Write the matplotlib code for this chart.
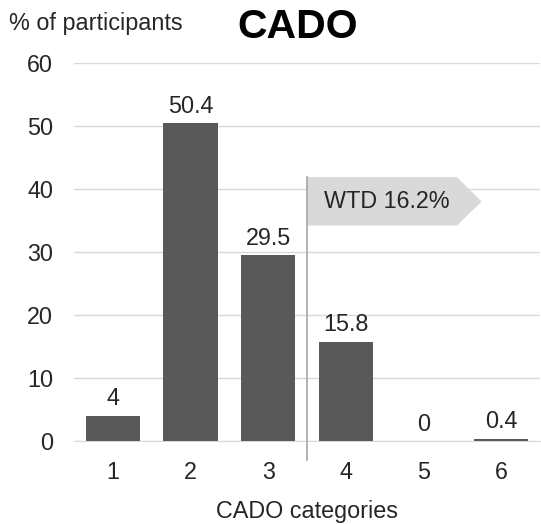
import matplotlib.pyplot as plt
from matplotlib.patches import Polygon

plt.rcParams['font.family'] = ['Liberation Sans', 'DejaVu Sans']

categorias = [1, 2, 3, 4, 5, 6]
percentuais = [4, 50.4, 29.5, 15.8, 0, 0.4]
rotulos = ['4', '50.4', '29.5', '15.8', '0', '0.4']
wtd = 16.2

fs = 16.8
fig = plt.figure(figsize=(5.41, 5.24), dpi=100)
ax = fig.add_axes([0.137, 0.158, 0.861, 0.722])

barras = ax.bar(categorias, percentuais, width=0.7, color='#595959', zorder=3)
for b, txt in zip(barras, rotulos):
    ax.annotate(txt, (b.get_x() + b.get_width() / 2, b.get_height()),
                xytext=(0, 4), textcoords='offset points',
                ha='center', va='bottom', fontsize=fs, color='#262626')

ax.set_xlim(0.5, 6.5)
ax.set_ylim(0, 60)
ax.set_yticks(range(0, 61, 10))
ax.set_xticks(categorias)
ax.grid(axis='y', color='#d9d9d9', linewidth=1, zorder=0)
for s in ['top', 'right', 'left']:
    ax.spines[s].set_visible(False)
ax.spines['bottom'].set_color('#d9d9d9')
ax.tick_params(length=0, labelsize=fs, labelcolor='#262626')
ax.tick_params(axis='x', pad=14)
ax.tick_params(axis='y', pad=15)

# seta do WTD
seta = Polygon([(3.5, 41.9), (5.43, 41.9), (5.75, 38.0), (5.43, 34.2), (3.5, 34.2)],
               closed=True, facecolor='#d9d9d9', edgecolor='none', zorder=4)
ax.add_patch(seta)
ax.plot([3.5, 3.5], [-3.0, 41.9], color='#a6a6a6', linewidth=1.2, zorder=5, clip_on=False)
ax.text(3.72, 38.0, 'WTD %.1f%%' % wtd, fontsize=fs, va='center', ha='left',
        color='#262626', zorder=6)

ax.set_xlabel('CADO categories', fontsize=fs, color='#262626', labelpad=12)
fig.text(0.016, 0.955, '% of participants', fontsize=fs, color='#262626', va='center')
fig.text(0.551, 0.948, 'CADO', fontsize=29.5, fontweight='bold', ha='center', va='center')

fig.savefig('out.png', dpi=100)
